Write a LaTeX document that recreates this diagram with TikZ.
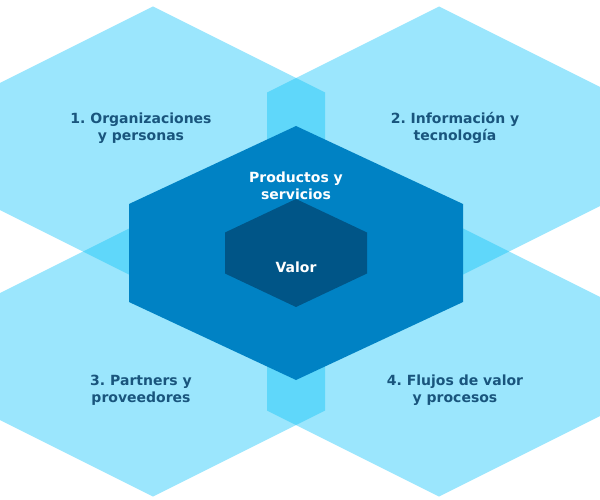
\documentclass[tikz,border=0pt]{standalone}
\usepackage{fontspec}
\setmainfont{DejaVu Sans}
\frenchspacing
\definecolor{lite}{HTML}{9BE6FD}
\definecolor{over}{HTML}{5FD7FA}
\definecolor{mid}{HTML}{0082C4}
\definecolor{deep}{HTML}{005587}
\definecolor{ink}{HTML}{19557D}
\newcommand{\hexa}[5]{(#1,#2) +(0,{-#4-#5}) -- +(#3,-#4) -- +(#3,#4) -- +(0,{#4+#5}) -- +(-#3,#4) -- +(-#3,-#4) -- cycle}
\newcommand{\ohex}[2]{\hexa{#1}{#2}{172}{54}{86}}
\tikzset{
  lbl/.style={font=\bfseries\fontsize{14}{17}\selectfont,text=ink,align=center},
  wlbl/.style={lbl,text=white},
}
\begin{document}
\begin{tikzpicture}[x=1pt,y=-1pt]
\useasboundingbox (0,0) rectangle (600,500);
\clip (0,0) rectangle (600,500);
\foreach \cx/\cy in {153/146.5,439/146.5,153/356.5,439/356.5} \fill[lite] \ohex{\cx}{\cy};
\foreach \ax/\ay/\bx/\by in {153/146.5/439/146.5,153/356.5/439/356.5,153/146.5/153/356.5,439/146.5/439/356.5} {
  \begin{scope}
    \clip \ohex{\ax}{\ay};
    \fill[over] \ohex{\bx}{\by};
  \end{scope}
}
\fill[mid] \hexa{296}{253}{167}{49}{78};
\fill[deep] \hexa{296}{253}{71}{20.5}{33.5};
\node[lbl] (org) at (141,128) {1. Organizaciones\\y personas};
\node[lbl] (info) at (455,128) {2. Información y\\tecnología};
\node[lbl] (part) at (141,390) {3. Partners y\\proveedores};
\node[lbl] (flow) at (455,390) {4. Flujos de valor\\y procesos};
\node[wlbl] (prod) at (296,185.5) {Productos y\\servicios};
\node[wlbl] (val) at (296,267) {Valor};
\end{tikzpicture}
\end{document}
